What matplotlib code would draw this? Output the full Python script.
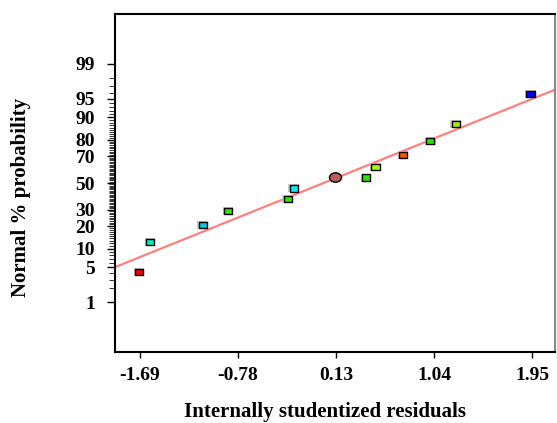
import numpy as np
import matplotlib
matplotlib.use("Agg")
import matplotlib.pyplot as plt
from matplotlib.path import Path
from matplotlib.transforms import Affine2D
from statistics import NormalDist

# ---- data ----
residuals = [-1.70, -1.597, -1.108, -0.874, -0.320, -0.264, 0.406, 0.496, 0.750, 1.003, 1.239, 1.934]
probability = [4.2, 12.5, 20.8, 29.2, 37.5, 45.8, 54.2, 62.5, 70.8, 79.2, 87.5, 95.8]
point_colors = ["#ff0000", "#00f0c8", "#00c8f0", "#33e000", "#33e000", "#00f0f0",
                "#33e000", "#aaff00", "#ff5000", "#33e000", "#aaee00", "#0000ff"]
circle_x = [0.116]
circle_y = [54.5]
line_x = [-1.93, 2.17]
line_y = [5.0, 96.6]
xtick_values = [-1.69, -0.78, 0.13, 1.04, 1.95]
ytick_major = [1, 5, 10, 20, 30, 50, 70, 80, 90, 95, 99]
ytick_minor = [p for p in range(1, 100) if p not in ytick_major]

nd = NormalDist()

def probit(p):
    a = np.asarray(p, dtype=float)
    flat = np.clip(a.ravel(), 1e-9, 100 - 1e-9)
    out = np.array([nd.inv_cdf(v / 100.0) for v in flat])
    return out.reshape(a.shape)

def inv_probit(z):
    a = np.asarray(z, dtype=float)
    flat = a.ravel()
    out = np.array([nd.cdf(v) * 100.0 for v in flat])
    return out.reshape(a.shape)

plt.rcParams['font.family'] = ['Liberation Serif', 'DejaVu Serif']
plt.rcParams['font.weight'] = 'bold'

fig = plt.figure(figsize=(5.57, 4.23), dpi=100)
ax = fig.add_axes([114.5 / 557, 1 - 352 / 423, (555 - 114.5) / 557, (352 - 14) / 423])
ax.set_yscale('function', functions=(probit, inv_probit))
ax.set_xlim(-1.927, 2.16)
ax.set_ylim(0.05, 99.95)

ax.plot(line_x, line_y, color="#ff8080", lw=1.6, zorder=2, clip_on=True)

rect = [(-1, -0.75), (1, -0.75), (1, 0.75), (-1, 0.75), (-1, -0.75)]
ax.scatter(residuals, probability, marker=rect, s=60, c="#c8c8c8", edgecolors="none", zorder=3)
ax.scatter(residuals, probability, marker=rect, s=36, c=point_colors,
           edgecolors="black", linewidths=1.0, zorder=4)
ellipse = Path.unit_circle().transformed(Affine2D().scale(1.0, 0.78))
ax.scatter(circle_x, circle_y, marker=ellipse, s=75, c="#b85c5c", edgecolors="black",
           linewidths=1.0, zorder=5)

ax.set_xticks(xtick_values)
ax.set_xticklabels([f"{v:.2f}" for v in xtick_values])
ax.set_yticks(ytick_major)
ax.set_yticklabels([str(v) for v in ytick_major])
ax.set_yticks(ytick_minor, minor=True)
ax.tick_params(axis='x', direction='out', length=4.5, width=1.0, pad=6, labelsize=14)
ax.tick_params(axis='y', which='major', direction='out', length=6, width=1.0, pad=8, labelsize=14)
ax.tick_params(axis='y', which='minor', direction='out', length=4, width=0.7, color="#333333")
for lbl in ax.get_xticklabels() + ax.get_yticklabels():
    lbl.set_fontweight('bold')

for side in ['left', 'bottom', 'top']:
    ax.spines[side].set_linewidth(1.5)
    ax.spines[side].set_color('black')
ax.spines['right'].set_linewidth(1.5)
ax.spines['right'].set_color('#888888')

ax.set_xlabel("Internally studentized residuals", fontsize=15, fontweight='bold')
ax.set_ylabel("Normal % probability", fontsize=15, fontweight='bold')
ax.xaxis.set_label_coords((325 - 114.5) / (555 - 114.5), -(402 - 352) / (352 - 14))
ax.yaxis.set_label_coords(-(114.5 - 31) / (555 - 114.5), (352 - 197) / (352 - 14))

fig.savefig("out.png", dpi=100)
